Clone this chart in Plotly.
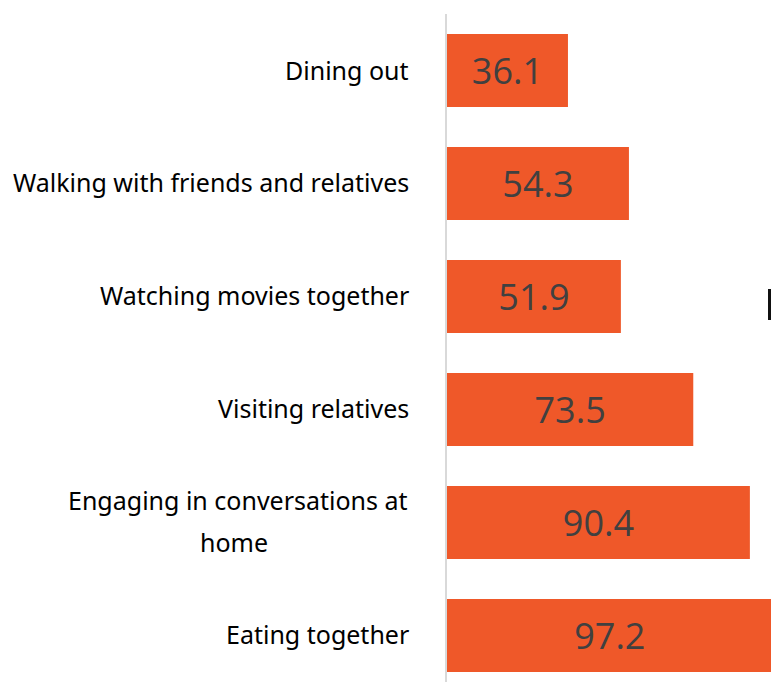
import plotly.graph_objects as go

# 카테고리와 값 (위에서 아래 순서)
categories = ['Dining out', 'Walking with friends and relatives', 'Watching movies together',
              'Visiting relatives', 'Engaging in conversations at<br>home', 'Eating together']
values = [36.1, 54.3, 51.9, 73.5, 90.4, 97.2]

# 아래에서 위로 그리기 위해 뒤집기
cats = categories[::-1]
vals = values[::-1]

BAR_COLOR = '#EF5829'
LABEL_FONT = dict(family='Noto Sans', size=25, color='#000000')

fig = go.Figure()

fig.add_trace(go.Bar(
    x=vals,
    y=cats,
    orientation='h',
    marker=dict(color=BAR_COLOR, line=dict(width=0)),
    text=[f'{v:.1f}' for v in vals],
    textposition='inside',
    insidetextanchor='middle',
    textangle=0,
    textfont=dict(family='Open Sans', size=36, color='#404040'),
    hoverinfo='skip'
))

# 카테고리 라벨 (가운데 정렬, 줄 간격 넓게)
for cat in cats:
    lines = cat.split('<br>')
    if len(lines) == 1:
        fig.add_annotation(x=0, xref='paper', y=cat, yref='y', text=cat,
                           xanchor='right', xshift=-36, yshift=1, showarrow=False,
                           font=LABEL_FONT)
    else:
        fig.add_annotation(x=0, xref='paper', y=cat, yref='y', text=lines[0],
                           xanchor='right', xshift=-37, yshift=22, showarrow=False,
                           font=LABEL_FONT)
        fig.add_annotation(x=0, xref='paper', y=cat, yref='y', text=lines[1],
                           xanchor='center', xshift=-213, yshift=-20, showarrow=False,
                           font=LABEL_FONT)

# 오른쪽 끝에 잘린 요소
fig.add_shape(type='rect', xref='paper', yref='paper',
              x0=1 - 3 / 324, x1=1.0, y0=(682 - 320) / 668, y1=(682 - 289) / 668,
              fillcolor='#111111', line=dict(width=0))

fig.update_layout(
    width=771,
    height=682,
    margin=dict(l=447, r=0, t=14, b=0),
    plot_bgcolor='white',
    paper_bgcolor='white',
    bargap=0.354,
    showlegend=False,
    xaxis=dict(range=[0, 96.7], visible=False, fixedrange=True),
    yaxis=dict(range=[-0.412, 5.5], showticklabels=False, ticks='',
               showgrid=False, zeroline=False, fixedrange=True,
               showline=True, linecolor='#D9D9D9', linewidth=2),
)

# 페이지 여백 제거 (스크롤바 방지)
fig.write_html("out.html", config={'displayModeBar': False},
               post_script="document.body.style.margin='0';")
